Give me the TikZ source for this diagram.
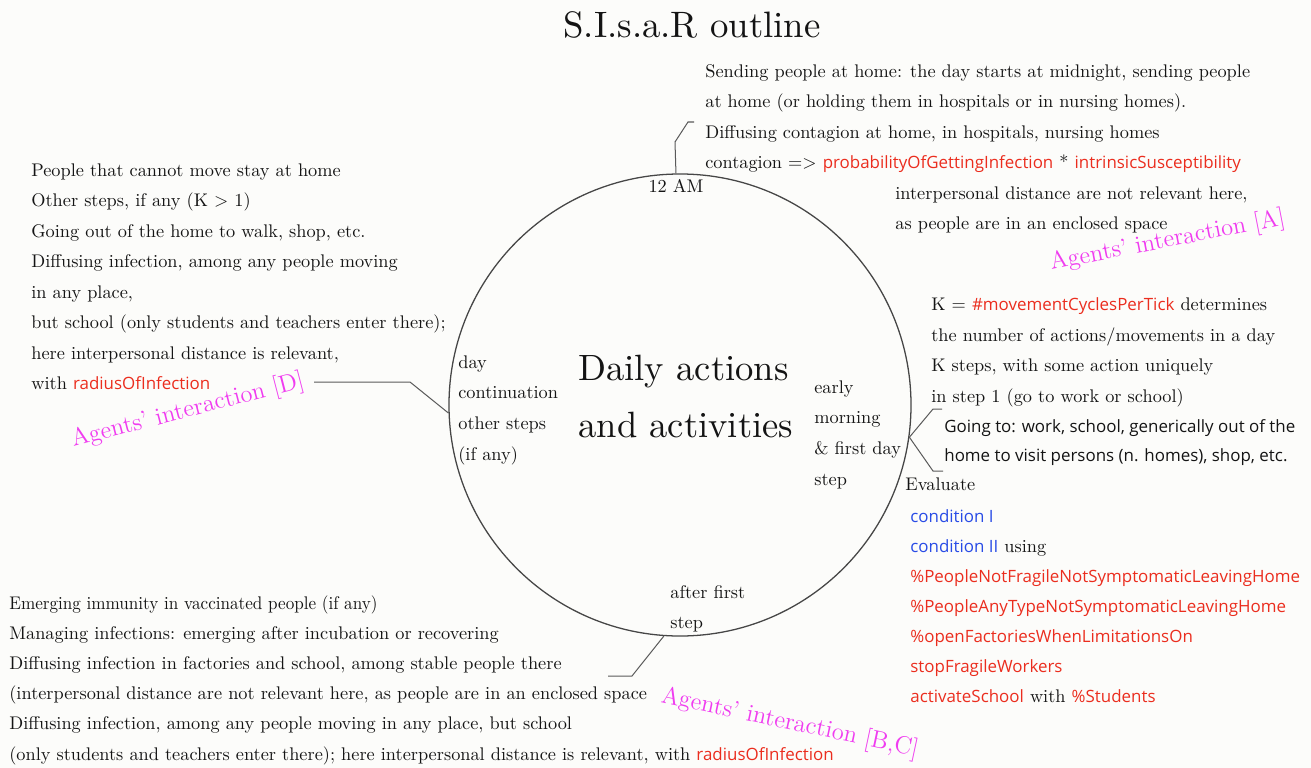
\documentclass[tikz,border=0pt]{standalone}
\usepackage{fontspec}
\usepackage{graphicx}
\newfontfamily\sansf{Open Sans}
\definecolor{bg}{RGB}{252,252,250}
\definecolor{txt}{RGB}{20,20,20}
\definecolor{cred}{RGB}{235,45,30}
\definecolor{cblue}{RGB}{40,75,230}
\definecolor{cmag}{RGB}{240,60,240}
\definecolor{circ}{RGB}{70,70,70}
\definecolor{lnk}{RGB}{90,90,90}
\newcommand{\bodyf}{\fontsize{10}{12}\selectfont\addfontfeature{FakeBold=1.5}}
\newcommand{\sansfs}{\sansf\fontsize{9.25}{12}\selectfont}
\newcommand{\redc}[1]{{\sansfs\color{cred}#1}}
\newcommand{\bluec}[1]{{\sansfs\color{cblue}#1}}
\newcommand{\blk}[1]{{\sansfs #1}}
\tikzset{
  x=0.5465pt, y=-0.5465pt,
  body/.style={font=\bodyf, text=txt, anchor=base west, inner sep=0pt},
  ctr/.style={font=\bodyf, text=txt, anchor=base, inner sep=0pt},
  mag/.style={font=\fontsize{13.4}{16}\selectfont\addfontfeature{FakeBold=0.8}, text=cmag, anchor=base west, inner sep=0pt},
  big/.style={text=txt, anchor=base west, inner sep=0pt},
  conn/.style={draw=lnk, line width=0.55pt},
}
\begin{document}
\begin{tikzpicture}
\path[use as bounding box, fill=bg] (0,0) rectangle (1311,768);

% title
\node[big] (title) at (563,37) {\scalebox{2.01}{\bodyf S.I.s.a.R outline}};

% circle
\node[circle, draw=circ, line width=0.7pt, minimum size=252.5pt, inner sep=0pt] (circ) at (680,405) {};
\node[big] (c1) at (578,380) {\scalebox{2.0}{\bodyf Daily actions}};
\node[big] (c2) at (578,437) {\scalebox{2.0}{\bodyf and activities}};
\node[ctr] (am) at (676,192) {12 AM};
\foreach \t [count=\i] in {day,continuation,other steps,(if any)}
  \node[body] (ld\i) at (458,{368+30.7*(\i-1)}) {\t};
\foreach \t [count=\i] in {early,morning,\& first day,step}
  \node[body] (rd\i) at (814,{393+30.7*(\i-1)}) {\t};
\node[body] (bd1) at (670,598) {after first};
\node[body] (bd2) at (670,628) {step};

% top-right block
\node[body] (tr1) at (705,77) {Sending people at home: the day starts at midnight, sending people};
\node[body] (tr2) at (705,107.5) {at home (or holding them in hospitals or in nursing homes).};
\node[body] (tr3) at (705,138) {Diffusing contagion at home, in hospitals, nursing homes};
\node[body] (tr4) at (705,168.5) {contagion $=>$ \redc{probabilityOfGettingInfection} * \redc{intrinsicSusceptibility}};
\node[body] (tr5) at (895,199) {interpersonal distance are not relevant here,};
\node[body] (tr6) at (895,229.5) {as people are in an enclosed space};
\node[mag, rotate=11] (magA) at (1051,270) {Agents' interaction [A]};

% left block
\foreach \t [count=\i] in {{People that cannot move stay at home},
  {Other steps, if any (K $>$ 1)},
  {Going out of the home to walk, shop, etc.},
  {Diffusing infection, among any people moving},
  {in any place,},
  {but school (only students and teachers enter there);},
  {here interpersonal distance is relevant,},
  {with \redc{radiusOfInfection}}}
  \node[body] (lb\i) at (31,{176+30.5*(\i-1)}) {\t};
\node[mag, rotate=14.5] (magD) at (73,447) {Agents' interaction [D]};

% right block
\node[body] (rb1) at (931,310) {K $=$ \redc{\#movementCyclesPerTick} determines};
\node[body] (rb2) at (931,341) {the number of actions/movements in a day};
\node[body] (rb3) at (931,371) {K steps, with some action uniquely};
\node[body] (rb4) at (931,402) {in step 1 (go to work or school)};
\node[body] (rb5) at (944,432) {\blk{Going to: work, school, generically out of the}};
\node[body] (rb6) at (944,461) {\blk{home to visit persons (n. homes), shop, etc.}};
\node[body] (rb7) at (905,490) {Evaluate};
\node[body] (rb8) at (910,522) {\bluec{condition I}};
\node[body] (rb9) at (910,552) {\bluec{condition II} using};
\node[body] (rb10) at (910,582) {\redc{\%PeopleNotFragileNotSymptomaticLeavingHome}};
\node[body] (rb11) at (910,612) {\redc{\%PeopleAnyTypeNotSymptomaticLeavingHome}};
\node[body] (rb12) at (910,642) {\redc{\%openFactoriesWhenLimitationsOn}};
\node[body] (rb13) at (910,672) {\redc{stopFragileWorkers}};
\node[body] (rb14) at (910,702) {\redc{activateSchool} with \redc{\%Students}};

% bottom-left block
\node[body] (bl1) at (9,609) {\scalebox{0.935}[1]{Emerging immunity in vaccinated people (if any)}};
\foreach \t [count=\i from 2] in {{Managing infections: emerging after incubation or recovering},
  {Diffusing infection in factories and school, among stable people there},
  {(interpersonal distance are not relevant here, as people are in an enclosed space},
  {Diffusing infection, among any people moving in any place, but school},
  {(only students and teachers enter there); here interpersonal distance is relevant, with \redc{radiusOfInfection}}}
  \node[body] (bl\i) at (9,{609+30.2*(\i-1)}) {\t};
\node[mag, rotate=-12] (magBC) at (660,702) {Agents' interaction [B,C]};

% connectors
\coordinate (t1) at (675,142);
\coordinate (t2) at (688,122);
\coordinate (t3) at (694,122);
\draw[conn] (circ.91.2) -- (t1) -- (t2) -- (t3);
\coordinate (l1) at (410,382);
\coordinate (l2) at (314,382);
\draw[conn] (circ.182.7) -- (l1) -- (l2);
\coordinate (b1) at (632,676);
\coordinate (b2) at (608,676);
\draw[conn] (circ.266.5) -- (b1) -- (b2);
\coordinate (r1) at (933,409);
\coordinate (r2) at (942,409);
\coordinate (r3) at (933,471);
\coordinate (r4) at (943,471);
\draw[conn] (r2) -- (r1) -- (circ.-8.7) -- (r3) -- (r4);
\end{tikzpicture}
\end{document}
